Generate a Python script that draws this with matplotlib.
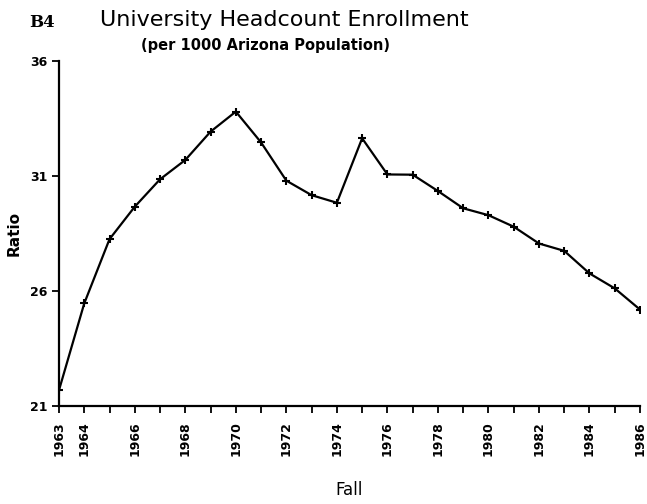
import matplotlib.pyplot as plt

# dados
anos = list(range(1963, 1987))
razao = [21.70, 25.47, 28.26, 29.67, 30.86, 31.70, 32.93, 33.80, 32.46, 30.80,
         30.17, 29.84, 32.64, 31.07, 31.06, 30.35, 29.60, 29.30, 28.80, 28.07,
         27.75, 26.77, 26.12, 25.20]
rotulos_x = [1963, 1964] + list(range(1966, 1987, 2))
ticks_y = [21, 26, 31, 36]

fig = plt.figure(figsize=(6.47, 5.04), dpi=100)
ax = fig.add_axes([0.0912, 0.194, 0.898, 0.685])

ax.plot(anos, razao, color='black', lw=1.6, marker='+', ms=6, mew=1.5)

ax.set_xlim(1963, 1986)
ax.set_ylim(21, 36)
ax.spines['top'].set_visible(False)
ax.spines['right'].set_visible(False)
ax.spines['left'].set_linewidth(1.6)
ax.spines['bottom'].set_linewidth(1.6)

ax.set_xticks(anos, minor=True)
ax.set_xticks(rotulos_x)
ax.set_xticklabels([str(a) for a in rotulos_x], rotation=90, fontsize=9, fontweight='bold')
ax.set_yticks(ticks_y)
ax.set_yticklabels([str(v) for v in ticks_y], fontsize=9, fontweight='bold')
ax.tick_params(axis='x', which='both', length=5, width=1.3, direction='out', pad=6)
ax.tick_params(axis='y', length=5, width=1.3, direction='out')

ax.set_xlabel('Fall', fontsize=12, labelpad=18)
ax.set_ylabel('Ratio', fontsize=11, fontweight='bold', labelpad=6)

fig.text(0.045, 0.955, 'B4', fontsize=12, fontweight='bold', family='DejaVu Serif', va='center')
fig.text(0.44, 0.96, 'University Headcount Enrollment', fontsize=16, ha='center', va='center')
fig.text(0.41, 0.91, '(per 1000 Arizona Population)', fontsize=10.5, fontweight='bold', ha='center', va='center')

plt.savefig('out.png', dpi=100)
